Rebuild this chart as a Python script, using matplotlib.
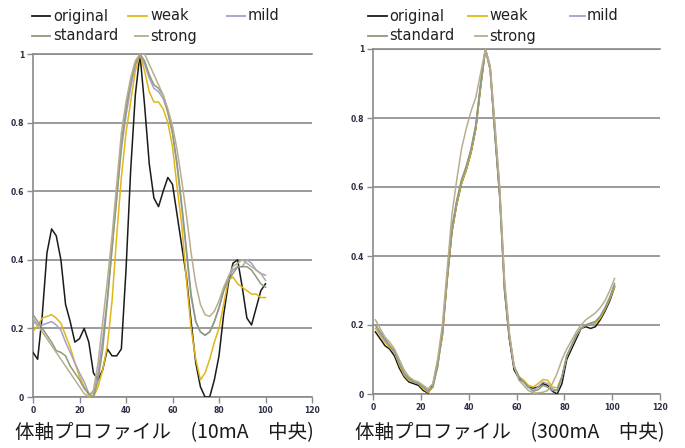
import matplotlib
matplotlib.use("Agg")
import matplotlib.pyplot as plt
from matplotlib.lines import Line2D

# ---------------- data ----------------
series_names = ["original", "weak", "mild", "standard", "strong"]
series_colors = ["#1a1a1a", "#E2B714", "#A3A0C9", "#8C9A7E", "#B8AD8E"]

x_ticks = [0, 20, 40, 60, 80, 100, 120]
y_ticks = [0, 0.2, 0.4, 0.6, 0.8, 1]
y_tick_labels = ["0", "0.2", "0.4", "0.6", "0.8", "1"]

left_title = "体軸プロファイル　(10mA　中央)"
right_title = "体軸プロファイル　(300mA　中央)"

left_x = list(range(0, 101, 2))
l_original = [0.13, 0.11, 0.24, 0.42, 0.49, 0.47, 0.40, 0.27, 0.22, 0.16,
              0.17, 0.20, 0.16, 0.07, 0.05, 0.08, 0.14, 0.12, 0.12, 0.14,
              0.37, 0.66, 0.88, 1.0, 0.85, 0.68, 0.58, 0.555, 0.60, 0.64,
              0.62, 0.53, 0.44, 0.35, 0.22, 0.10, 0.03, 0.0, 0.0, 0.05,
              0.12, 0.24, 0.33, 0.39, 0.40, 0.32, 0.23, 0.21, 0.26, 0.31, 0.33]
l_weak = [0.19, 0.21, 0.23, 0.235, 0.24, 0.23, 0.215, 0.18, 0.145, 0.10,
          0.06, 0.03, 0.005, 0.0, 0.03, 0.08, 0.15, 0.28, 0.47, 0.64,
          0.77, 0.86, 0.95, 1.0, 0.95, 0.89, 0.86, 0.86, 0.84, 0.80,
          0.73, 0.61, 0.50, 0.34, 0.20, 0.11, 0.05, 0.07, 0.11, 0.16,
          0.20, 0.27, 0.34, 0.35, 0.33, 0.32, 0.31, 0.30, 0.30, 0.29, 0.29]
l_mild = [0.22, 0.21, 0.21, 0.215, 0.22, 0.21, 0.195, 0.16, 0.13, 0.10,
          0.07, 0.045, 0.01, 0.01, 0.07, 0.17, 0.29, 0.44, 0.58, 0.72,
          0.82, 0.90, 0.97, 1.0, 0.97, 0.93, 0.90, 0.89, 0.87, 0.83,
          0.77, 0.67, 0.55, 0.42, 0.29, 0.22, 0.19, 0.18, 0.19, 0.22,
          0.26, 0.31, 0.35, 0.37, 0.38, 0.38, 0.40, 0.39, 0.37, 0.36, 0.355]
l_standard = [0.24, 0.22, 0.20, 0.18, 0.16, 0.135, 0.13, 0.12, 0.09, 0.07,
              0.05, 0.025, 0.01, 0.0, 0.05, 0.14, 0.28, 0.43, 0.58, 0.74,
              0.84, 0.92, 0.97, 1.0, 0.98, 0.94, 0.91, 0.90, 0.88, 0.83,
              0.77, 0.68, 0.56, 0.43, 0.30, 0.22, 0.19, 0.18, 0.19, 0.22,
              0.26, 0.31, 0.34, 0.36, 0.38, 0.38, 0.38, 0.37, 0.35, 0.33, 0.32]
l_strong = [0.23, 0.21, 0.19, 0.17, 0.15, 0.13, 0.11, 0.09, 0.07, 0.05,
            0.03, 0.01, 0.0, 0.02, 0.10, 0.22, 0.34, 0.47, 0.62, 0.77,
            0.86, 0.93, 0.98, 1.0, 1.0, 0.97, 0.94, 0.91, 0.88, 0.84,
            0.79, 0.72, 0.63, 0.53, 0.42, 0.33, 0.27, 0.24, 0.235, 0.25,
            0.28, 0.32, 0.35, 0.38, 0.39, 0.40, 0.39, 0.38, 0.37, 0.36, 0.34]

right_x = list(range(1, 102, 2))
r_original = [0.18, 0.16, 0.14, 0.13, 0.11, 0.075, 0.05, 0.035, 0.03, 0.025,
              0.01, 0.003, 0.025, 0.09, 0.17, 0.33, 0.47, 0.55, 0.61, 0.65,
              0.70, 0.77, 0.89, 1.0, 0.94, 0.75, 0.57, 0.30, 0.16, 0.07,
              0.045, 0.035, 0.02, 0.017, 0.02, 0.03, 0.025, 0.008, 0.0, 0.03,
              0.10, 0.13, 0.16, 0.19, 0.195, 0.19, 0.195, 0.215, 0.24, 0.27, 0.31]
r_weak = [0.19, 0.17, 0.15, 0.135, 0.12, 0.085, 0.055, 0.04, 0.035, 0.03,
          0.015, 0.005, 0.02, 0.08, 0.17, 0.33, 0.47, 0.55, 0.61, 0.65,
          0.70, 0.77, 0.89, 1.0, 0.94, 0.76, 0.58, 0.31, 0.17, 0.08,
          0.05, 0.04, 0.025, 0.02, 0.03, 0.042, 0.04, 0.02, 0.018, 0.05,
          0.11, 0.14, 0.17, 0.19, 0.20, 0.205, 0.205, 0.22, 0.245, 0.275, 0.31]
r_mild = [0.20, 0.175, 0.155, 0.14, 0.12, 0.09, 0.06, 0.045, 0.035, 0.03,
          0.02, 0.008, 0.02, 0.08, 0.18, 0.34, 0.48, 0.56, 0.62, 0.66,
          0.71, 0.78, 0.90, 1.0, 0.94, 0.76, 0.58, 0.31, 0.17, 0.08,
          0.05, 0.035, 0.02, 0.01, 0.02, 0.035, 0.03, 0.015, 0.01, 0.05,
          0.11, 0.14, 0.17, 0.19, 0.20, 0.205, 0.21, 0.225, 0.25, 0.28, 0.315]
r_standard = [0.20, 0.18, 0.16, 0.14, 0.125, 0.09, 0.06, 0.045, 0.035, 0.03,
              0.02, 0.01, 0.02, 0.08, 0.18, 0.34, 0.48, 0.56, 0.62, 0.66,
              0.71, 0.78, 0.90, 1.0, 0.95, 0.77, 0.59, 0.32, 0.17, 0.08,
              0.05, 0.035, 0.02, 0.008, 0.012, 0.025, 0.02, 0.01, 0.01, 0.05,
              0.11, 0.14, 0.17, 0.19, 0.20, 0.205, 0.21, 0.225, 0.25, 0.28, 0.32]
r_strong = [0.215, 0.19, 0.165, 0.15, 0.13, 0.10, 0.07, 0.05, 0.04, 0.035,
            0.025, 0.015, 0.03, 0.10, 0.20, 0.36, 0.52, 0.62, 0.71, 0.77,
            0.82, 0.86, 0.93, 1.0, 0.95, 0.78, 0.60, 0.33, 0.18, 0.08,
            0.04, 0.025, 0.01, 0.003, 0.003, 0.005, 0.01, 0.03, 0.06, 0.10,
            0.13, 0.155, 0.18, 0.20, 0.215, 0.225, 0.235, 0.25, 0.27, 0.30, 0.335]

left_series = [l_original, l_weak, l_mild, l_standard, l_strong]
right_series = [r_original, r_weak, r_mild, r_standard, r_strong]

# ---------------- figure ----------------
W, H = 685, 448
fig = plt.figure(figsize=(W / 100, H / 100), dpi=100)
fig.patch.set_facecolor("white")

GRID = "#8a8a8a"
TICKTXT = "#2b2f45"


def px_rect(x0, x1, y_top, y_bot):
    return [x0 / W, 1 - y_bot / H, (x1 - x0) / W, (y_bot - y_top) / H]


def style_axes(ax, xs, series):
    for vals, c in zip(series, series_colors):
        ax.plot(xs, vals, color=c, lw=1.1, solid_joinstyle="round", zorder=3)
    ax.set_xlim(0, 120)
    ax.set_ylim(0, 1)
    ax.set_xticks(x_ticks)
    ax.set_xticklabels([str(t) for t in x_ticks])
    ax.set_yticks(y_ticks)
    ax.set_yticklabels(y_tick_labels)
    for s in ["top", "right"]:
        ax.spines[s].set_visible(False)
    for s in ["left", "bottom"]:
        ax.spines[s].set_color(GRID)
        ax.spines[s].set_linewidth(1.2)
    ax.yaxis.grid(True, color=GRID, lw=1.2, zorder=1)
    ax.set_axisbelow(True)
    ax.tick_params(axis="both", direction="out", length=4, width=1.0,
                   color=GRID, labelsize=5.5, labelcolor=TICKTXT, pad=2.5)
    for lab in ax.get_xticklabels() + ax.get_yticklabels():
        lab.set_fontweight("bold")
    ax.set_facecolor("none")
    ax.axhline(1, color=GRID, lw=1.2, zorder=1, clip_on=False)


axL = fig.add_axes(px_rect(33, 312, 54, 397))
axR = fig.add_axes(px_rect(373, 660, 49, 394))
style_axes(axL, left_x, left_series)
style_axes(axR, right_x, right_series)


# ---------------- legends (manual, two rows) ----------------
def legend_entry(x0, x1, xtxt, ypx, name, color):
    fig.add_artist(Line2D([x0 / W, x1 / W], [1 - ypx / H, 1 - ypx / H],
                          transform=fig.transFigure, color=color, lw=1.3))
    fig.text(xtxt / W, 1 - ypx / H, name, fontsize=10.5, color="#222222",
             va="center", ha="left", family="DejaVu Sans")


row1, row2 = 16, 36
left_leg = [(32, 50, 53, row1), (128, 147, 150, row1), (227, 245, 248, row1),
            (32, 50, 53, row2), (135, 148, 150, row2)]
right_leg = [(368, 387, 389, row1), (468, 487, 489, row1), (570, 585, 587, row1),
             (368, 387, 389, row2), (475, 487, 489, row2)]
for (a, b, t, y), n, c in zip(left_leg, series_names, series_colors):
    legend_entry(a, b, t, y, n, c)
for (a, b, t, y), n, c in zip(right_leg, series_names, series_colors):
    legend_entry(a, b, t, y, n, c)

# ---------------- titles ----------------
fam = ["Noto Sans CJK JP", "DejaVu Sans"]
fig.text(15 / W, 1 - 433 / H, left_title, fontsize=14, family=fam,
         color="#1a1a1a", va="center", ha="left")
fig.text(355 / W, 1 - 433 / H, right_title, fontsize=14, family=fam,
         color="#1a1a1a", va="center", ha="left")

fig.savefig("out.png", dpi=100, facecolor="white")
